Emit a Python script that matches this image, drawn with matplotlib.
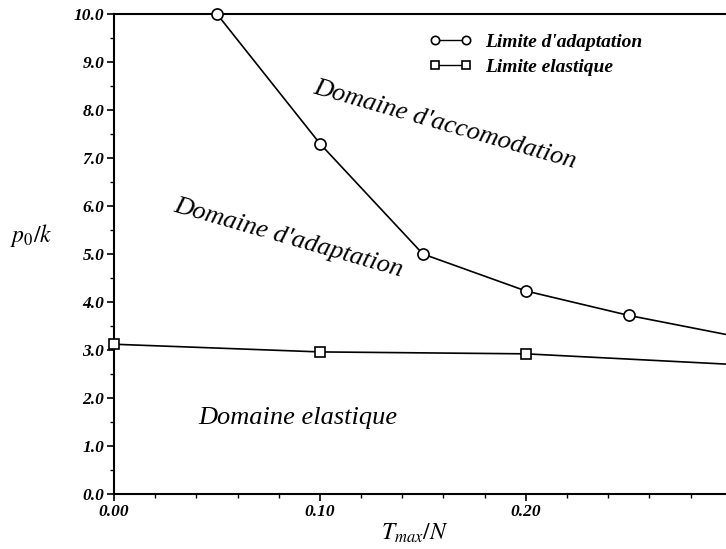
import matplotlib

matplotlib.use("Agg")
import matplotlib.pyplot as plt
from matplotlib.ticker import MultipleLocator, FormatStrFormatter

# data
adapt_x = [0.05, 0.10, 0.15, 0.20, 0.25, 0.30]
adapt_y = [10.0, 7.3, 5.0, 4.23, 3.72, 3.3]
elast_x = [0.00, 0.10, 0.20, 0.30]
elast_y = [3.12, 2.96, 2.92, 2.7]
xticks = [0.00, 0.10, 0.20]

plt.rcParams.update(
    {
        "font.family": "Liberation Serif",
        "mathtext.fontset": "stix",
    }
)

fig = plt.figure(figsize=(7.26, 5.49), dpi=100)
ax = fig.add_axes([0.157, 0.1002, 0.851, 0.8743])

ax.plot(adapt_x, adapt_y, "-", color="black", lw=1.2, marker="o", ms=8,
        mfc="white", mec="black", mew=1.2, label="Limite d'adaptation",
        clip_on=False, zorder=3)
ax.plot(elast_x, elast_y, "-", color="black", lw=1.2, marker="s", ms=7,
        mfc="white", mec="black", mew=1.2, label="Limite elastique",
        clip_on=False, zorder=3)

ax.set_xlim(0, 0.30)
ax.set_ylim(0, 10.0)
ax.set_xticks(xticks)
ax.xaxis.set_minor_locator(MultipleLocator(0.02))
ax.yaxis.set_major_locator(MultipleLocator(1.0))
ax.yaxis.set_minor_locator(MultipleLocator(0.5))
ax.xaxis.set_major_formatter(FormatStrFormatter("%.2f"))
ax.yaxis.set_major_formatter(FormatStrFormatter("%.1f"))
ax.tick_params(which="major", direction="out", length=5, width=1.2, pad=2)
ax.tick_params(which="minor", direction="out", length=3, width=1.0)
for lab in ax.get_xticklabels() + ax.get_yticklabels():
    lab.set_fontstyle("italic")
    lab.set_fontweight("bold")
    lab.set_fontsize(12.5)

ax.spines["right"].set_visible(False)
for s in ("left", "bottom", "top"):
    ax.spines[s].set_linewidth(1.5)

ax.set_xlabel("$T_{max}/N$", fontsize=17)
ax.xaxis.set_label_coords(0.487, -0.058)
ax.set_ylabel("$p_0/k$", fontsize=17, rotation=0)
ax.yaxis.set_label_coords(-0.134, 0.51)

ax.text(0.1607, 7.69, "Domaine d'accomodation", fontsize=19, style="italic",
        rotation=-16, ha="center", va="center")
ax.text(0.0845, 5.33, "Domaine d'adaptation", fontsize=19, style="italic",
        rotation=-16, ha="center", va="center")
ax.text(0.0893, 1.58, "Domaine elastique", fontsize=19, style="italic",
        ha="center", va="center")

leg = ax.legend(loc="upper left", bbox_to_anchor=(0.51, 0.96), frameon=False,
                numpoints=2, handlelength=2.2, handletextpad=0.7, borderpad=0,
                borderaxespad=0, labelspacing=0.4,
                prop={"style": "italic", "weight": "bold", "size": 14})
for h in leg.legend_handles:
    h.set_markersize(6)
    h.set_linewidth(1.0)

fig.savefig("out.png", dpi=100)
